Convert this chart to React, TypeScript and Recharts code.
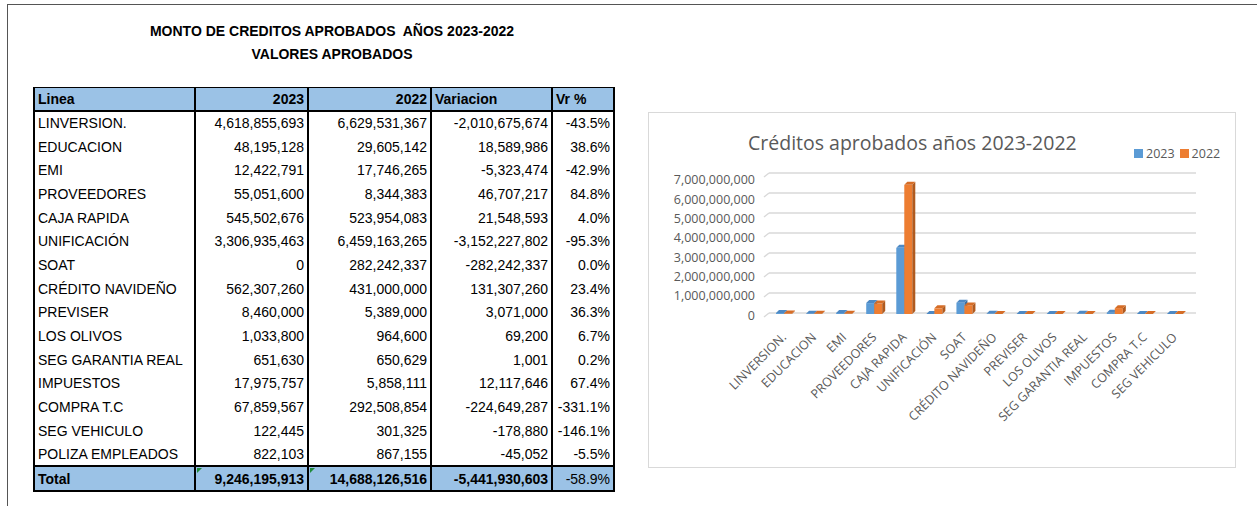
import React from 'react';
import { BarChart, Bar, XAxis, YAxis, CartesianGrid } from 'recharts';

// Tabla "Valores aprobados"
const lineas = [
  'LINVERSION.',
  'EDUCACION',
  'EMI',
  'PROVEEDORES',
  'CAJA RAPIDA',
  'UNIFICACIÓN',
  'SOAT',
  'CRÉDITO NAVIDEÑO',
  'PREVISER',
  'LOS OLIVOS',
  'SEG GARANTIA REAL',
  'IMPUESTOS',
  'COMPRA T.C',
  'SEG VEHICULO',
  'POLIZA EMPLEADOS',
];
const montos2023 = [
  4618855693, 48195128, 12422791, 55051600, 545502676, 3306935463, 0, 562307260, 8460000, 1033800, 651630,
  17975757, 67859567, 122445, 822103,
];
const montos2022 = [
  6629531367, 29605142, 17746265, 8344383, 523954083, 6459163265, 282242337, 431000000, 5389000, 964600, 650629,
  5858111, 292508854, 301325, 867155,
];
const variacion = [
  -2010675674, 18589986, -5323474, 46707217, 21548593, -3152227802, -282242337, 131307260, 3071000, 69200, 1001,
  12117646, -224649287, -178880, -45052,
];
const vrPct = [-43.5, 38.6, -42.9, 84.8, 4.0, -95.3, 0.0, 23.4, 36.3, 6.7, 0.2, 67.4, -331.1, -146.1, -5.5];
const totales = [9246195913, 14688126516, -5441930603];
const totalPct = -58.9;

// el grafico original toma las etiquetas de una fila y los valores de la siguiente
const categoriasGrafico = lineas.slice(0, 14);
const serie2023 = montos2023.slice(1);
const serie2022 = montos2022.slice(1);
const yTicks = [0, 1000000000, 2000000000, 3000000000, 4000000000, 5000000000, 6000000000, 7000000000];

const chartData = categoriasGrafico.map((name, i) => ({ name, v2023: serie2023[i], v2022: serie2022[i] }));

const fmt = (n: number) => n.toLocaleString('en-US');
const fmtPct = (n: number) => n.toFixed(1) + '%';

const GRAY = '#595959';
const CHART_FONT = '"Open Sans", sans-serif';
const TABLE_FONT = '"Liberation Sans", Arial, sans-serif';

/** barra con efecto 3D (cara frontal, lateral y tapa) */
function Bar3D(props: any) {
  const { x, y, width, height, front, side, top } = props;
  if (x == null || y == null) return null;
  const d = 3;
  const s = 1;
  const h = Math.max(height || 0, 0);
  const y0 = y + s;
  return (
    <g>
      <rect x={x} y={y0} width={width} height={h} fill={front} />
      <polygon
        points={`${x + width},${y0} ${x + width + d},${y0 - d} ${x + width + d},${y0 + h - d} ${x + width},${y0 + h}`}
        fill={side}
      />
      <polygon points={`${x},${y0} ${x + d},${y0 - d} ${x + width + d},${y0 - d} ${x + width},${y0}`} fill={top} />
    </g>
  );
}

function YTick(props: any) {
  const { x, y, payload } = props;
  // etiquetas en el eje frontal, lineas en la pared del fondo
  const off = 2 + (0.7 * payload.value) / 1e9;
  return (
    <g>
      <line x1={x - 5} y1={y + 4} x2={x} y2={y} stroke="#d9d9d9" strokeWidth={1.5} />
      <text
        x={x - 14}
        y={y + off}
        textAnchor="end"
        dominantBaseline="central"
        fontSize={12.5}
        fontFamily={CHART_FONT}
        fill={GRAY}
      >
        {fmt(payload.value)}
      </text>
    </g>
  );
}

function XTick(props: any) {
  const { x, y, payload } = props;
  return (
    <text
      transform={`translate(${x + 3},${y + 25}) rotate(-45)`}
      textAnchor="end"
      fontSize={12.5}
      fontFamily={CHART_FONT}
      fill={GRAY}
    >
      {payload.value}
    </text>
  );
}

const cellBase: React.CSSProperties = {
  padding: '0 3px',
  whiteSpace: 'nowrap',
  overflow: 'hidden',
  borderRight: '2px solid #000',
};

function GreenMark() {
  return (
    <span
      style={{
        position: 'absolute',
        left: 1,
        top: 1,
        width: 0,
        height: 0,
        borderTop: '5px solid #1f8a3a',
        borderRight: '5px solid transparent',
      }}
    />
  );
}

function Tabla() {
  const headBg = '#9bc2e6';
  const head: React.CSSProperties = {
    ...cellBase,
    background: headBg,
    fontWeight: 'bold',
    borderTop: '1px solid #000',
    borderBottom: '2px solid #000',
    height: 22,
  };
  const tot: React.CSSProperties = {
    ...cellBase,
    background: headBg,
    fontWeight: 'bold',
    borderTop: '2px solid #000',
    borderBottom: '2px solid #000',
    height: 23,
    position: 'relative',
  };
  return (
    <table
      style={{
        position: 'absolute',
        left: 33,
        top: 87,
        width: 582,
        borderCollapse: 'collapse',
        tableLayout: 'fixed',
        fontFamily: TABLE_FONT,
        fontSize: 14,
        color: '#000',
        borderLeft: '2px solid #000',
      }}
    >
      <colgroup>
        <col style={{ width: 161 }} />
        <col style={{ width: 113 }} />
        <col style={{ width: 123 }} />
        <col style={{ width: 121 }} />
        <col style={{ width: 62 }} />
      </colgroup>
      <tbody>
        <tr>
          <td style={{ ...head, textAlign: 'left' }}>Linea</td>
          <td style={{ ...head, textAlign: 'right' }}>2023</td>
          <td style={{ ...head, textAlign: 'right' }}>2022</td>
          <td style={{ ...head, textAlign: 'left' }}>Variacion</td>
          <td style={{ ...head, textAlign: 'left' }}>Vr %</td>
        </tr>
        {lineas.map((l, i) => (
          <tr key={l} style={{ height: 23.7 }}>
            <td style={{ ...cellBase, textAlign: 'left' }}>{l}</td>
            <td style={{ ...cellBase, textAlign: 'right' }}>{fmt(montos2023[i])}</td>
            <td style={{ ...cellBase, textAlign: 'right' }}>{fmt(montos2022[i])}</td>
            <td style={{ ...cellBase, textAlign: 'right' }}>{fmt(variacion[i])}</td>
            <td style={{ ...cellBase, textAlign: 'right' }}>{fmtPct(vrPct[i])}</td>
          </tr>
        ))}
        <tr>
          <td style={{ ...tot, textAlign: 'left' }}>Total</td>
          <td style={{ ...tot, textAlign: 'right' }}>
            <GreenMark />
            {fmt(totales[0])}
          </td>
          <td style={{ ...tot, textAlign: 'right' }}>
            <GreenMark />
            {fmt(totales[1])}
          </td>
          <td style={{ ...tot, textAlign: 'right' }}>{fmt(totales[2])}</td>
          <td style={{ ...tot, textAlign: 'right', fontWeight: 'normal', border: '2.5px solid #000' }}>
            {fmtPct(totalPct)}
          </td>
        </tr>
      </tbody>
    </table>
  );
}

function Grafico() {
  return (
    <div
      style={{
        position: 'absolute',
        left: 648,
        top: 112,
        width: 588,
        height: 356,
        border: '1px solid #d9d9d9',
        boxSizing: 'border-box',
        background: '#fff',
      }}
    >
      <div
        style={{
          position: 'absolute',
          left: 99,
          top: 16,
          fontFamily: CHART_FONT,
          fontSize: 19.5,
          color: GRAY,
          whiteSpace: 'nowrap',
        }}
      >
        Créditos aprobados años 2023-2022
      </div>
      <div
        style={{
          position: 'absolute',
          left: 485,
          top: 32,
          fontFamily: CHART_FONT,
          fontSize: 12.5,
          color: GRAY,
          display: 'flex',
          alignItems: 'center',
          whiteSpace: 'nowrap',
        }}
      >
        <span style={{ width: 9, height: 9, background: '#5b9bd5', marginRight: 3 }} />
        <span style={{ marginRight: 5 }}>2023</span>
        <span style={{ width: 9, height: 9, background: '#ed7d31', marginRight: 3 }} />
        <span>2022</span>
      </div>
      <BarChart
        width={588}
        height={356}
        data={chartData}
        margin={{ top: 61, right: 40, bottom: 125, left: 0 }}
        barGap={0}
        barSize={8}
        style={{ position: 'absolute', left: -1, top: -1 }}
      >
        <CartesianGrid vertical={false} stroke="#d9d9d9" strokeWidth={1.5} />
        <XAxis
          dataKey="name"
          height={30}
          axisLine={false}
          tickLine={false}
          tickSize={0}
          tickMargin={0}
          interval={0}
          padding={{ left: 0, right: 6 }}
          tick={<XTick />}
        />
        <YAxis
          width={121}
          domain={[0, 7000000000]}
          ticks={yTicks}
          interval={0}
          axisLine={false}
          tickLine={false}
          tickSize={0}
          tickMargin={0}
          tick={<YTick />}
        />
        <Bar
          dataKey="v2023"
          isAnimationActive={false}
          shape={(p: any) => <Bar3D {...p} front="#5b9bd5" side="#3e6fa0" top="#4d89c4" />}
        />
        <Bar
          dataKey="v2022"
          isAnimationActive={false}
          shape={(p: any) => <Bar3D {...p} front="#ed7d31" side="#b05a1f" top="#d56d27" />}
        />
      </BarChart>
    </div>
  );
}

export default function App() {
  return (
    <div style={{ position: 'absolute', left: 0, top: 0, width: 1257, height: 506, background: '#fff', overflow: 'hidden' }}>
      <div
        style={{
          position: 'absolute',
          left: 7,
          top: 4,
          width: 1260,
          height: 510,
          borderTop: '1.5px solid #555',
          borderLeft: '1.5px solid #555',
        }}
      />
      <div
        style={{
          position: 'absolute',
          left: 0,
          width: 664,
          top: 20,
          textAlign: 'center',
          fontFamily: TABLE_FONT,
          fontWeight: 'bold',
          fontSize: 14,
          lineHeight: '23px',
          whiteSpace: 'pre',
        }}
      >
        {'MONTO DE CREDITOS APROBADOS  AÑOS 2023-2022\nVALORES APROBADOS'}
      </div>
      <Tabla />
      <Grafico />
    </div>
  );
}
